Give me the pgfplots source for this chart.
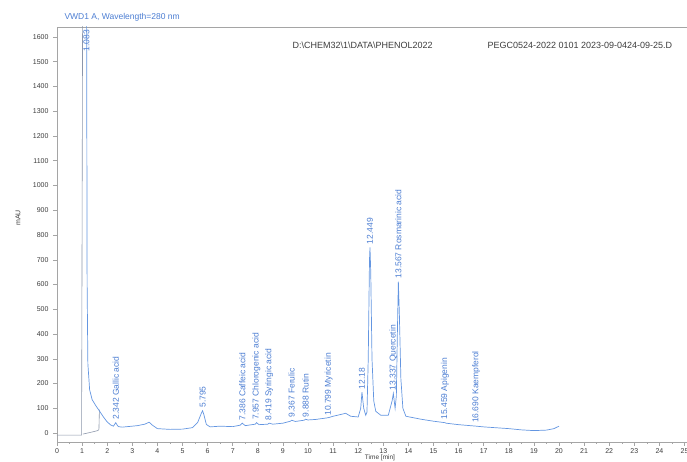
\documentclass[border=0pt]{standalone}
\usepackage{fontspec}
\setmainfont{Liberation Sans}
\usepackage{pgfplots}
\pgfplotsset{compat=1.18}
\definecolor{trace}{RGB}{100,150,225}
\definecolor{greytrace}{RGB}{140,150,170}
\definecolor{axgrey}{RGB}{165,165,165}
\definecolor{lblue}{RGB}{75,125,210}
\definecolor{txt}{RGB}{60,60,60}
\begin{document}
\begin{tikzpicture}
\useasboundingbox (-57pt,-20pt) rectangle (630pt,442pt);
\begin{axis}[
  at={(0pt,0pt)}, anchor=south west,
  scale only axis, width=630pt, height=415pt,
  xmin=0, xmax=25.1, ymin=-36, ymax=1640,
  axis line style={axgrey, line width=0.6pt},
  xtick={0,1,...,25}, ytick={0,100,...,1600},
  minor x tick num=1,
  tick style={axgrey, line width=0.5pt},
  tick align=outside, major tick length=4pt, minor tick length=2pt,
  xtick pos=bottom, ytick pos=left,
  /pgf/number format/assume math mode=true,
  /pgf/number format/1000 sep={},
  tick label style={font=\fontsize{7}{8}\selectfont, text=txt},
  yticklabel style={xshift=-1pt},
  xticklabel style={yshift=1pt},
  clip=true,
]
\addplot[greytrace, line width=0.6pt] coordinates {
(0,-8) (0.98,-8) (1.02,1700)
};
\addplot[greytrace, line width=0.6pt] coordinates {
(1.03,-4) (1.3,2) (1.62,10) (1.67,14) (1.69,95)
};
\addplot[trace, line width=0.7pt] coordinates {
(1.02,1700) (1.18,1700) (1.2,600) (1.23,280) (1.3,175) (1.4,135) (1.55,110)
(1.7,88) (1.85,65) (2.0,45) (2.15,32) (2.25,28) (2.3,36) (2.34,42) (2.4,32) (2.45,26)
(2.6,24) (2.9,27) (3.2,30) (3.5,36) (3.67,44) (3.8,32) (4.0,18) (4.5,15)
(5.0,16) (5.4,22) (5.6,42) (5.75,80) (5.8,90) (5.85,75) (5.95,35) (6.1,25) (6.5,28)
(7.0,26) (7.3,32) (7.38,40) (7.5,30) (7.9,36) (7.95,42) (8.05,34) (8.4,36) (8.45,40)
(8.6,36) (9.0,40) (9.3,48) (9.35,52) (9.5,47) (9.85,52) (9.9,56) (10.0,53)
(10.3,55) (10.8,62) (11.0,68) (11.3,75) (11.5,80) (11.7,68) (12.0,65)
(12.1,100) (12.15,165) (12.22,100) (12.3,72) (12.35,85) (12.4,300) (12.45,700)
(12.47,750) (12.5,650) (12.55,300) (12.62,130) (12.7,88) (12.9,72) (13.2,72)
(13.35,130) (13.4,160) (13.47,100) (13.52,150) (13.56,400) (13.6,612)
(13.64,480) (13.7,220) (13.78,100) (13.9,68) (14.5,56) (15.0,48) (15.46,42)
(15.5,40) (16.0,34) (16.7,28) (17.0,25) (18.0,18) (18.5,13) (19.0,10)
(19.5,12) (19.8,18) (20.0,28)
};
\begin{scope}[every node/.style={font=\fontsize{8.5}{9}\selectfont, text=lblue, rotate=90, inner sep=1pt}]
\node[anchor=east] at (axis cs:1.17,1632) {1.083};
\node[anchor=west] at (axis cs:2.34,50) {2.342 Gallic acid};
\node[anchor=west] at (axis cs:5.8,98) {5.795};
\node[anchor=west] at (axis cs:7.38,46) {7.386 Caffeic acid};
\node[anchor=west] at (axis cs:7.95,48) {7.957 Chlorogenic acid};
\node[anchor=west] at (axis cs:8.45,46) {8.419 Syringic acid};
\node[anchor=west] at (axis cs:9.35,58) {9.367 Ferulic};
\node[anchor=west] at (axis cs:9.9,60) {9.888 Rutin};
\node[anchor=west] at (axis cs:10.82,66) {10.799 Myricetin};
\node[anchor=west] at (axis cs:12.15,172) {12.18};
\node[anchor=west] at (axis cs:12.47,758) {12.449};
\node[anchor=west] at (axis cs:13.4,168) {13.337 Quercetin};
\node[anchor=west] at (axis cs:13.6,620) {13.567 Rosmarinic acid};
\node[anchor=west] at (axis cs:15.46,50) {15.459 Apigenin};
\node[anchor=west] at (axis cs:16.7,36) {16.690 Kaempferol};
\end{scope}
\end{axis}
\node[anchor=west, text=lblue, font=\fontsize{8.5}{9}\selectfont] at (4pt,425pt) {VWD1 A, Wavelength=280 nm};
\node[anchor=west, text=txt, font=\fontsize{9}{10}\selectfont] at (232pt,397pt) {D:\textbackslash CHEM32\textbackslash 1\textbackslash DATA\textbackslash PHENOL2022};
\node[anchor=west, text=txt, font=\fontsize{9}{10}\selectfont] at (427pt,397pt) {PEGC0524-2022 0101 2023-09-0424-09-25.D};
\node[rotate=90, text=txt, font=\fontsize{7}{8}\selectfont] at (-39pt,224pt) {mAU};
\node[anchor=south, text=txt, font=\fontsize{6.5}{7}\selectfont, inner sep=0.5pt] at (323pt,-20pt) {Time [min]};
\end{tikzpicture}
\end{document}
